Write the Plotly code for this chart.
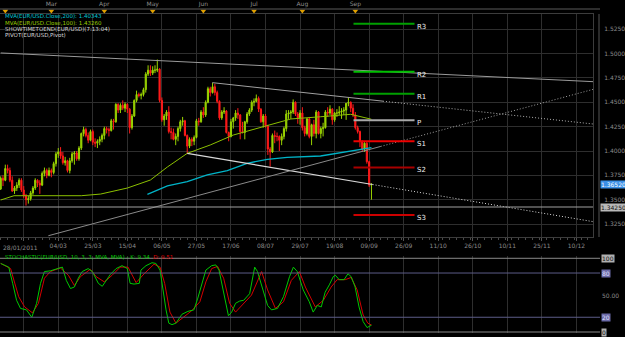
import plotly.graph_objects as go
import pandas as pd

# ---------------- data ----------------
dates = pd.bdate_range("2011-01-28", "2011-09-12")

opens = [1.3610,1.3720,1.3700,1.3820,1.3800,1.3700,1.3590,1.3620,1.3650,1.3700,
         1.3600,1.3540,1.3500,1.3510,1.3570,1.3620,1.3700,1.3670,1.3650,1.3770,
         1.3800,1.3750,1.3800,1.3780,1.3870,1.3970,1.3990,1.3950,1.3880,1.3900,
         1.3800,1.3900,1.3970,1.3980,1.3920,1.4030,1.4180,1.4220,1.4160,1.4110,
         1.4200,1.4090,1.4080,1.4100,1.4120,1.4160,1.4230,1.4220,1.4210,1.4310,
         1.4300,1.4480,1.4420,1.4470,1.4440,1.4480,1.4430,1.4240,1.4360,1.4520,
         1.4580,1.4570,1.4580,1.4630,1.4790,1.4830,1.4800,1.4830,1.4830,1.4840,
         1.4520,1.4320,1.4360,1.4400,1.4200,1.4190,1.4120,1.4150,1.4230,1.4300,
         1.4310,1.4160,1.4050,1.4120,1.4100,1.4140,1.4310,1.4300,1.4400,1.4370,
         1.4500,1.4640,1.4600,1.4660,1.4600,1.4510,1.4340,1.4400,1.4410,1.4190,
         1.4150,1.4300,1.4340,1.4390,1.4370,1.4200,1.4190,1.4300,1.4380,1.4420,
         1.4500,1.4510,1.4540,1.4430,1.4300,1.4360,1.4260,1.4020,1.3990,1.4160,
         1.4150,1.4150,1.4110,1.4150,1.4230,1.4380,1.4390,1.4400,1.4500,1.4380,
         1.4340,1.4390,1.4240,1.4180,1.4330,1.4150,1.4270,1.4180,1.4400,1.4180,
         1.4230,1.4240,1.4400,1.4390,1.4430,1.4320,1.4390,1.4390,1.4400,1.4410,
         1.4420,1.4490,1.4500,1.4440,1.4370,1.4240,1.4200,1.4100,1.4020,1.4080,
         1.3890,1.3650]
highs = [1.3740,1.3750,1.3860,1.3860,1.3830,1.3740,1.3640,1.3680,1.3720,1.3720,
         1.3640,1.3560,1.3540,1.3590,1.3640,1.3720,1.3710,1.3700,1.3790,1.3830,
         1.3820,1.3830,1.3820,1.3890,1.3990,1.4030,1.4040,1.3990,1.3940,1.3910,
         1.3930,1.3990,1.4000,1.4000,1.4050,1.4190,1.4250,1.4240,1.4190,1.4220,
         1.4220,1.4130,1.4120,1.4150,1.4180,1.4250,1.4250,1.4240,1.4330,1.4330,
         1.4490,1.4490,1.4490,1.4520,1.4500,1.4490,1.4440,1.4380,1.4530,1.4620,
         1.4600,1.4600,1.4650,1.4810,1.4880,1.4880,1.4870,1.4880,1.4940,1.4850,
         1.4550,1.4380,1.4420,1.4460,1.4240,1.4230,1.4180,1.4250,1.4320,1.4350,
         1.4320,1.4170,1.4140,1.4140,1.4160,1.4330,1.4340,1.4420,1.4450,1.4520,
         1.4660,1.4660,1.4700,1.4690,1.4620,1.4520,1.4420,1.4450,1.4420,1.4200,
         1.4330,1.4350,1.4420,1.4440,1.4380,1.4300,1.4310,1.4400,1.4440,1.4520,
         1.4540,1.4580,1.4560,1.4440,1.4380,1.4380,1.4270,1.4040,1.4180,1.4210,
         1.4190,1.4160,1.4180,1.4250,1.4420,1.4420,1.4420,1.4530,1.4510,1.4400,
         1.4420,1.4450,1.4260,1.4340,1.4350,1.4280,1.4320,1.4420,1.4410,1.4250,
         1.4290,1.4420,1.4450,1.4470,1.4440,1.4400,1.4430,1.4460,1.4440,1.4450,
         1.4490,1.4550,1.4510,1.4480,1.4400,1.4260,1.4210,1.4110,1.4090,1.4100,
         1.3900,1.3670]
lows = [1.3600,1.3640,1.3690,1.3770,1.3680,1.3580,1.3560,1.3590,1.3620,1.3580,
        1.3520,1.3440,1.3460,1.3490,1.3550,1.3600,1.3630,1.3560,1.3640,1.3740,
        1.3720,1.3740,1.3730,1.3760,1.3840,1.3930,1.3920,1.3860,1.3850,1.3780,
        1.3770,1.3880,1.3860,1.3900,1.3900,1.4010,1.4150,1.4140,1.4080,1.4100,
        1.4060,1.4040,1.4030,1.4060,1.4090,1.4120,1.4180,1.4150,1.4200,1.4220,
        1.4290,1.4390,1.4390,1.4420,1.4400,1.4390,1.4180,1.4220,1.4350,1.4500,
        1.4550,1.4530,1.4560,1.4600,1.4770,1.4770,1.4780,1.4800,1.4810,1.4500,
        1.4300,1.4260,1.4320,1.4180,1.4120,1.4110,1.4060,1.4100,1.4200,1.4260,
        1.4150,1.3970,1.4030,1.4050,1.4060,1.4130,1.4260,1.4290,1.4340,1.4350,
        1.4490,1.4560,1.4590,1.4570,1.4490,1.4320,1.4320,1.4380,1.4180,1.4100,
        1.4140,1.4230,1.4310,1.4330,1.4120,1.4180,1.4120,1.4280,1.4360,1.4400,
        1.4460,1.4500,1.4400,1.4290,1.4240,1.4240,1.3960,1.3840,1.3980,1.4080,
        1.4100,1.4000,1.4060,1.4120,1.4200,1.4330,1.4330,1.4380,1.4360,1.4280,
        1.4270,1.4210,1.4150,1.4160,1.4130,1.4060,1.4150,1.4130,1.4170,1.4130,
        1.4150,1.4230,1.4350,1.4370,1.4270,1.4300,1.4350,1.4370,1.4330,1.4370,
        1.4320,1.4460,1.4400,1.4350,1.4220,1.4180,1.4040,1.3990,1.3990,1.3870,
        1.3630,1.3500]
closes = [1.3720,1.3700,1.3820,1.3800,1.3700,1.3590,1.3620,1.3650,1.3700,1.3600,
          1.3540,1.3500,1.3510,1.3570,1.3620,1.3700,1.3670,1.3650,1.3770,1.3800,
          1.3750,1.3800,1.3780,1.3870,1.3970,1.3990,1.3950,1.3880,1.3900,1.3800,
          1.3900,1.3970,1.3980,1.3920,1.4030,1.4180,1.4220,1.4160,1.4110,1.4200,
          1.4090,1.4080,1.4100,1.4120,1.4160,1.4230,1.4220,1.4210,1.4310,1.4300,
          1.4480,1.4420,1.4470,1.4440,1.4480,1.4430,1.4240,1.4360,1.4520,1.4580,
          1.4570,1.4580,1.4630,1.4790,1.4830,1.4800,1.4830,1.4830,1.4840,1.4520,
          1.4320,1.4360,1.4400,1.4200,1.4190,1.4120,1.4150,1.4230,1.4300,1.4310,
          1.4160,1.4050,1.4120,1.4100,1.4140,1.4310,1.4300,1.4400,1.4370,1.4500,
          1.4640,1.4600,1.4660,1.4600,1.4510,1.4340,1.4400,1.4410,1.4190,1.4150,
          1.4300,1.4340,1.4390,1.4370,1.4200,1.4190,1.4300,1.4380,1.4420,1.4500,
          1.4510,1.4540,1.4430,1.4300,1.4360,1.4260,1.4020,1.3990,1.4160,1.4150,
          1.4150,1.4110,1.4150,1.4230,1.4380,1.4390,1.4400,1.4500,1.4380,1.4340,
          1.4390,1.4240,1.4180,1.4330,1.4150,1.4270,1.4180,1.4400,1.4180,1.4230,
          1.4240,1.4400,1.4390,1.4430,1.4320,1.4390,1.4390,1.4400,1.4410,1.4420,
          1.4490,1.4500,1.4440,1.4370,1.4240,1.4200,1.4100,1.4020,1.4080,1.3890,
          1.3650,1.3652]
bar_idx = list(range(len(dates)))

# moving averages (bar position, value)
ma200_pos = [63.7, 72.4, 81, 89.7, 98.4, 107, 115.8, 124.4, 138.9, 149.7, 161]
ma200_val = [1.3555, 1.3641, 1.3685, 1.3754, 1.3798, 1.3874, 1.3915, 1.3935, 1.3949, 1.3990, 1.4034]
ma100_pos = [0, 5.8, 14, 35, 43.4, 55, 65, 72.4, 81, 91, 101, 113, 126, 139, 152, 161]
ma100_val = [1.3497, 1.3541, 1.3541, 1.3541, 1.3558, 1.3620, 1.3702, 1.3836, 1.3976, 1.4062,
             1.4164, 1.4247, 1.4329, 1.4352, 1.4377, 1.4326]

# stochastic %K and %D
k_pos = [0, 3.5, 5.2, 6.9, 8.6, 11.2, 13.5, 15.6, 17.3, 19.0, 21.6, 24.2, 26.8, 28.5, 30.3, 32.0,
         33.7, 35.4, 38.0, 39.8, 42.4, 44.1, 45.8, 47.6, 50.1, 52.7, 55.0, 56.2, 57.9, 60.2, 60.9,
         63.1, 65.7, 67.4, 69.2, 70.6, 71.8, 73.0, 74.4, 76.1, 78.7, 81.3, 83.9, 85.6, 87.3, 89.1,
         91.6, 93.4, 94.8, 96.8, 98.9, 100.3, 102.0, 103.8, 105.5, 108.1, 110.3, 111.5, 113.3,
         115.9, 117.6, 120.2, 122.8, 125.4, 127.1, 128.8, 131.4, 134.0, 135.7, 137.5, 139.2, 140.9,
         142.7, 144.4, 145.3, 147.0, 149.1, 150.8, 152.2, 153.9, 155.6, 157.4, 159.1, 161]
k_val = [93, 88, 66, 43, 32, 30, 20, 39, 66, 82, 83, 86, 88, 70, 59, 61,
         73, 82, 86, 82, 66, 62, 70, 78, 86, 90, 86, 66, 65, 66, 84,
         90, 94, 93, 84, 52, 30, 12, 10, 12, 24, 28, 30, 46, 66, 84,
         90, 91, 84, 52, 22, 27, 39, 42, 43, 52, 88, 82, 64,
         36, 30, 32, 48, 75, 88, 82, 57, 41, 27, 36, 34, 54,
         64, 75, 77, 71, 71, 79, 75, 61, 34, 14, 6, 9.34]
d_pos = [0, 4.3, 7.8, 10.4, 13.8, 16.4, 19.0, 21.6, 25.9, 29.4, 32.0, 34.6, 38.9, 41.5, 45.0,
         48.4, 51.9, 55.3, 58.8, 62.3, 66.6, 69.2, 71.2, 73.5, 76.1, 79.5, 83.0, 86.5, 89.1, 91.6,
         94.2, 96.8, 99.4, 102.0, 105.5, 108.9, 113.3, 115.9, 119.3, 122.8, 126.2, 129.7, 132.3,
         136.6, 140.1, 143.5, 146.1, 149.6, 152.2, 154.8, 157.4, 159.4, 161]
d_val = [93, 86, 48, 34, 26, 39, 73, 82, 87, 77, 63, 75, 85, 75, 68,
         77, 88, 88, 67, 79, 92, 88, 66, 27, 12, 21, 29, 41, 68, 86,
         89, 73, 39, 27, 39, 50, 82, 57, 32, 41, 70, 82, 61,
         34, 43, 61, 71, 71, 74, 57, 23, 12, 9.51]

# trend lines (bar position, price)
trend_top_pos = [0, 257.4]
trend_top_val = [1.5007, 1.4712]
trend_jun_pos = [91.9, 166, 257.4]
trend_jun_val = [1.4702, 1.4512, 1.4277]
trend_may_pos = [81, 161.5, 257.4]
trend_may_val = [1.3976, 1.3656, 1.3274]
trend_up_pos = [20.7, 165, 257.4]
trend_up_val = [1.3130, 1.4047, 1.4634]
hline_level = 1.3425
last_price = 1.3652

# pivot levels
pivot_names = ["R3", "R2", "R1", "P", "S1", "S2", "S3"]
pivot_levels = [1.5306, 1.4815, 1.4589, 1.4317, 1.4101, 1.3831, 1.3343]
pivot_colors = ["#00a000", "#00c000", "#00a000", "#a8a8a8", "#ee0000", "#a80000", "#cc0000"]
pivot_span = [153.2, 179.7]

# axes labels
price_ticks = [1.325, 1.35, 1.375, 1.40, 1.425, 1.45, 1.475, 1.50, 1.525]
date_tick_pos = [10, 25, 40, 55, 70, 85, 100, 115, 130, 145, 160, 175, 190, 205, 220, 235, 250]
date_tick_text = ["", "04/03", "25/03", "15/04", "06/05", "27/05", "17/06", "08/07", "29/07",
                  "19/08", "09/09", "26/09", "11/10", "26/10", "10/11", "25/11", "10/12"]
month_pos = [22, 45, 66, 88, 110, 131, 154]
month_names = ["Mar", "Apr", "May", "Jun", "Jul", "Aug", "Sep"]
triangle_pos = [2, 22, 45, 66, 88, 110, 131, 154]

# ---------------- figure ----------------
PB = 333.0  # paper height (t=0, b=4)
def py(px):
    return 1 - px / PB

XR = [-0.3, 257.2]
GRID = "#2e2e2e"
AXF = dict(family="DejaVu Sans", size=6, color="#8c8c8c")
DOTS = "1px,2px"

fig = go.Figure()

fig.add_trace(go.Candlestick(
    x=bar_idx, open=opens, high=highs, low=lows, close=closes,
    increasing=dict(line=dict(color="#9ad400", width=1), fillcolor="#9ad400"),
    decreasing=dict(line=dict(color="#ff1a1a", width=1), fillcolor="#ff1a1a"),
    whiskerwidth=0, showlegend=False, hoverinfo="skip", xaxis="x", yaxis="y"))

def line(xs, ys, color, width=1, dash="solid", xa="x", ya="y"):
    fig.add_trace(go.Scatter(x=xs, y=ys, mode="lines", line=dict(color=color, width=width, dash=dash),
                             showlegend=False, hoverinfo="skip", xaxis=xa, yaxis=ya))

line(ma100_pos, ma100_val, "#8cc000", 1)
line(ma200_pos, ma200_val, "#00b4c8", 1.3)

line(trend_top_pos, trend_top_val, "#9a9a9a", 1)
line(trend_jun_pos[:2], trend_jun_val[:2], "#a0a0a0", 1)
line(trend_jun_pos[1:], trend_jun_val[1:], "#b0b0b0", 1, DOTS)
line(trend_may_pos[:2], trend_may_val[:2], "#d8d8d8", 1.2)
line(trend_may_pos[1:], trend_may_val[1:], "#d8d8d8", 1, DOTS)
line(trend_up_pos[:2], trend_up_val[:2], "#8a8a8a", 1)
line(trend_up_pos[1:], trend_up_val[1:], "#a0a0a0", 1, DOTS)

for name, lev, col in zip(pivot_names, pivot_levels, pivot_colors):
    line(pivot_span, [lev, lev], col, 2)

# stochastic
line(d_pos, d_val, "#d40000", 1, xa="x2", ya="y2")
line(k_pos, k_val, "#00c800", 1, xa="x2", ya="y2")

# top month strip
fig.add_trace(go.Scatter(x=month_pos, y=[4.5] * len(month_pos), mode="text", text=month_names,
                         textfont=dict(family="DejaVu Sans", size=6, color="#8c8c8c"),
                         showlegend=False, hoverinfo="skip", xaxis="x3", yaxis="y3"))
fig.add_trace(go.Scatter(x=triangle_pos, y=[11] * len(triangle_pos), mode="markers",
                         marker=dict(symbol="triangle-down", size=5, color="#e0a000",
                                     line=dict(width=0)),
                         showlegend=False, hoverinfo="skip", xaxis="x3", yaxis="y3"))

shapes = []
shapes.append(dict(type="line", xref="x domain", yref="y", x0=0, x1=1, y0=hline_level, y1=hline_level,
                   line=dict(color="#a0a0a0", width=1)))
shapes.append(dict(type="line", xref="paper", yref="paper", x0=599 / 593, x1=599 / 593,
                   y0=py(237), y1=py(14), line=dict(color="#555555", width=1)))
shapes.append(dict(type="line", xref="paper", yref="paper", x0=0, x1=600 / 593,
                   y0=py(9), y1=py(9), line=dict(color="#5a5a5a", width=1)))
for lv, col in [(100, "#8a8a8a"), (80, "#5c5c88"), (20, "#5c5c88"), (0, "#8a8a8a")]:
    shapes.append(dict(type="line", xref="paper", yref="y2", x0=0, x1=600 / 593, y0=lv, y1=lv,
                       line=dict(color=col, width=1)))

ann = []
leg = [("MVA(EUR/USD.Close,200): 1.40343", "#00c8d8", 16),
       ("MVA(EUR/USD.Close,100): 1.43260", "#9acd00", 22.7),
       ("SHOWTIMETOEND(EUR/USD)(7:13:04)", "#d8d8d8", 29.2),
       ("PIVOT(EUR/USD,Pivot)", "#d8d8d8", 35.5)]
for t, c, yy in leg:
    ann.append(dict(text=t, xref="paper", yref="paper", x=3 / 593, y=py(yy), xanchor="left",
                    yanchor="middle", showarrow=False,
                    font=dict(family="DejaVu Sans", size=5.5, color=c)))
for name, lev in zip(pivot_names, pivot_levels):
    ann.append(dict(text=name, xref="x", yref="y", x=pivot_span[1] + 0.3, y=lev, xanchor="left",
                    yanchor="middle", yshift=-3, showarrow=False,
                    font=dict(family="DejaVu Sans", size=7, color="#f0f0f0")))
ann.append(dict(text="1.36520", xref="paper", yref="y", x=600 / 593, y=last_price, xanchor="left",
                yanchor="middle", showarrow=False, bgcolor="#3a8fe6", borderpad=0,
                font=dict(family="DejaVu Sans", size=6, color="#ffffff")))
ann.append(dict(text="1.34250", xref="paper", yref="y", x=600 / 593, y=hline_level, xanchor="left",
                yanchor="middle", showarrow=False, bgcolor="#b8b8b8", borderpad=0,
                font=dict(family="DejaVu Sans", size=6, color="#111111")))
ann.append(dict(text="28/01/2011", xref="paper", yref="paper", x=0.5 / 593, y=py(247),
                xanchor="left", yanchor="middle", showarrow=False, font=AXF))
ann.append(dict(text="<span style='color:#00c800'>STOCHASTIC(EUR/USD, 10, 3, 3, MVA, MVA) - K: 9.34</span>"
                     "  <span style='color:#e00000'>D: 9.51</span>",
                xref="paper", yref="paper", x=3 / 593, y=py(256.5), xanchor="left", yanchor="middle",
                showarrow=False, font=dict(family="DejaVu Sans", size=5.5)))
for txt, lv, bg, fc in [("100", 100, "#b0b0b0", "#111"), ("80", 80, "#6a6aa8", "#e0e0ff"),
                        ("50.00", 50, None, "#8c8c8c"), ("20", 20, "#6a6aa8", "#e0e0ff"),
                        ("0", 0, "#b0b0b0", "#111")]:
    a = dict(text=txt, xref="paper", yref="y2", x=601 / 593, y=lv, xanchor="left", yanchor="middle",
             showarrow=False, borderpad=0, font=dict(family="DejaVu Sans", size=6, color=fc))
    if bg:
        a["bgcolor"] = bg
    ann.append(a)

fig.update_layout(
    width=625, height=337, margin=dict(l=0, r=32, t=0, b=4),
    paper_bgcolor="#000000", plot_bgcolor="#000000",
    showlegend=False, shapes=shapes, annotations=ann,
    xaxis=dict(domain=[0, 1], anchor="y", range=XR, tickmode="array", tickvals=date_tick_pos,
               ticktext=date_tick_text, showgrid=True, gridcolor=GRID, gridwidth=1, zeroline=False,
               ticks="outside", ticklen=3, tickcolor="#555555", tickfont=AXF,
               showline=True, linecolor="#3c3c3c", mirror=True,
               minor=dict(ticks="outside", ticklen=2, tickcolor="#4a4a4a", tickmode="linear",
                          tick0=0, dtick=3, showgrid=False),
               rangeslider=dict(visible=False)),
    yaxis=dict(domain=[py(237), py(14)], anchor="x", side="right", range=[1.3117, 1.5407],
               tickmode="array", tickvals=price_ticks, ticktext=[f"{v:.4f}" for v in price_ticks],
               showgrid=True, gridcolor=GRID, zeroline=False, ticks="", ticklabelstandoff=9,
               tickfont=AXF, showline=True, linecolor="#3c3c3c", mirror=True),
    xaxis2=dict(domain=[0, 1], anchor="y2", range=XR, tickmode="array", tickvals=date_tick_pos,
                showticklabels=False, showgrid=True, gridcolor=GRID, zeroline=False, ticks=""),
    yaxis2=dict(domain=[0, py(256)], anchor="x2", side="right", range=[-1.36, 103.1],
                showgrid=False, zeroline=False, showticklabels=False, ticks=""),
    xaxis3=dict(anchor="y3", range=XR, showgrid=False, zeroline=False, showticklabels=False,
                ticks="", domain=[0, 1]),
    yaxis3=dict(domain=[py(14), 1], anchor="x3", range=[14, 0], showgrid=False, zeroline=False,
                showticklabels=False, ticks=""),
)

fig.write_html("out.html")
